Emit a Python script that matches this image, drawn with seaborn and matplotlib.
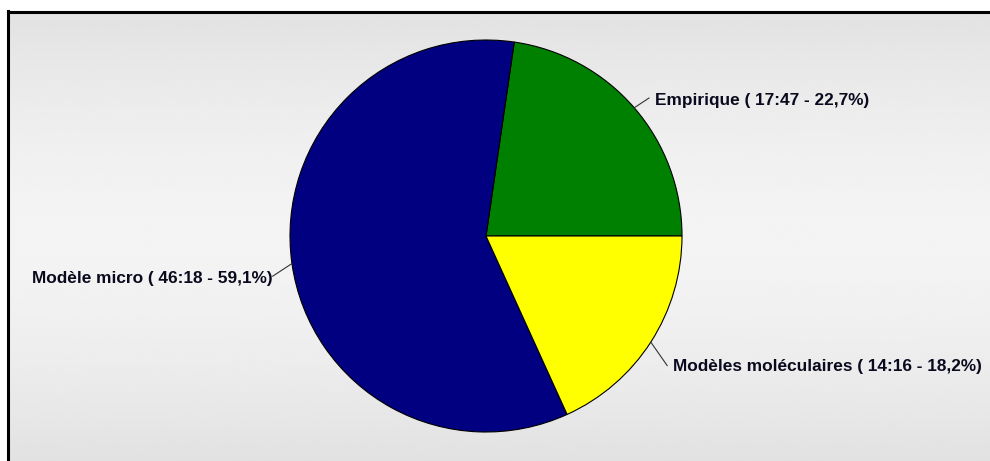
import numpy as np
import matplotlib
matplotlib.use("Agg")
import matplotlib.pyplot as plt
import seaborn as sns

sns.set_style("white")
plt.rcParams['font.family'] = ['Liberation Sans', 'DejaVu Sans']

# Data
categories = ["Empirique", "Modèle micro", "Modèles moléculaires"]
durations = ["17:47", "46:18", "14:16"]
colors = ["#008000", "#000080", "#FFFF00"]

def to_minutes(s):
    h, m = s.split(":")
    return int(h) * 60 + int(m)

values = [to_minutes(d) for d in durations]
total = sum(values)

W, H = 990, 461
fig = plt.figure(figsize=(W / 100, H / 100), dpi=100)
ax = fig.add_axes([0, 0, 1, 1])

cx, cy, R = 486, H - 236, 196

wedges, _ = ax.pie(values, colors=colors, startangle=0, counterclock=True,
                   center=(cx, cy), radius=R,
                   wedgeprops=dict(edgecolor="black", linewidth=0.8))

ax.set_xlim(0, W)
ax.set_ylim(0, H)
ax.set_aspect('auto')
ax.axis('off')

# background gradient
top_y = H - 12
grad = np.abs(np.linspace(-1, 1, 256)) ** 1.6
shade = 0.955 - 0.07 * grad
img = np.repeat(shade[:, None], 2, axis=1)
ax.imshow(img, cmap="gray", vmin=0, vmax=1, extent=(8, W, 0, top_y),
          aspect='auto', zorder=0, interpolation='bicubic')
ax.plot([8, 8], [0, top_y + 1], color="black", lw=2.2, zorder=1, solid_capstyle='projecting')
ax.plot([8, W], [top_y, top_y], color="black", lw=2.2, zorder=1, solid_capstyle='projecting')

# labels
line_dy = [3, 10, 13]
text_dy = [3, 2, 1]
for w, cat, dur, v, dy, tdy in zip(wedges, categories, durations, values, line_dy, text_dy):
    ang = np.deg2rad((w.theta1 + w.theta2) / 2)
    ex, ey = cx + R * np.cos(ang), cy + R * np.sin(ang)
    lx, ly = cx + 1.1 * R * np.cos(ang), cy + 1.1 * R * np.sin(ang) - dy
    pct = f"{100 * v / total:.1f}".replace(".", ",")
    text = f"{cat} ( {dur} - {pct}%)"
    right = np.cos(ang) >= 0
    ax.plot([ex, lx], [ey, ly], color="#333333", lw=0.8, zorder=3)
    ax.text(lx + (6 if right else 0), ly - tdy, text, ha="left" if right else "right",
            va="center", fontsize=12.4, fontweight="bold", color="#0a0a1e", zorder=4)

fig.savefig("out.png", dpi=100)
